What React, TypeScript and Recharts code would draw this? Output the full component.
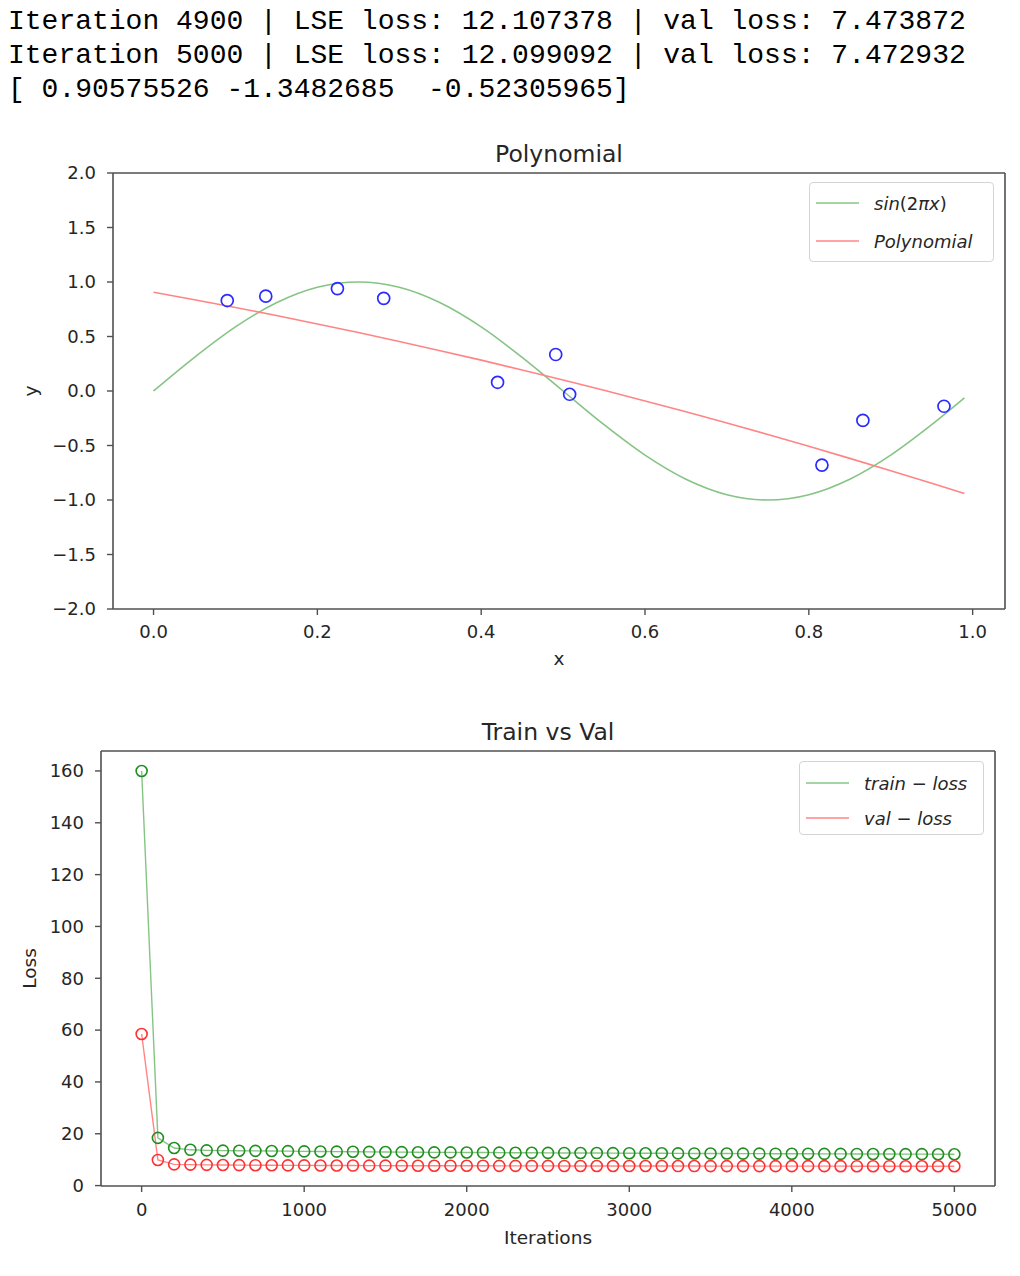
import React from 'react';
import { ComposedChart, Line, Scatter, XAxis, YAxis, Legend, ReferenceLine } from 'recharts';

// ---------- Console text ----------
const consoleLines = [
  'Iteration 4900 | LSE loss: 12.107378 | val loss: 7.473872',
  'Iteration 5000 | LSE loss: 12.099092 | val loss: 7.472932',
  '[ 0.90575526 -1.3482685  -0.52305965]',
];

// ---------- Polynomial chart data ----------
const curveX = [0, 0.05, 0.1, 0.15, 0.2, 0.25, 0.3, 0.35, 0.4, 0.45, 0.5, 0.55, 0.6, 0.65, 0.7, 0.75, 0.8, 0.85, 0.9, 0.95, 0.99];
const sinY = [0, 0.309, 0.588, 0.809, 0.951, 1.0, 0.951, 0.809, 0.588, 0.309, 0, -0.309, -0.588, -0.809, -0.951, -1.0, -0.951, -0.809, -0.588, -0.309, -0.063];
const polyY = [0.906, 0.837, 0.766, 0.692, 0.615, 0.536, 0.454, 0.37, 0.283, 0.193, 0.101, 0.006, -0.091, -0.191, -0.294, -0.399, -0.507, -0.618, -0.731, -0.847, -0.941];
const sampleX = [0.09, 0.137, 0.2245, 0.281, 0.42, 0.491, 0.508, 0.816, 0.866, 0.965];
const sampleY = [0.83, 0.87, 0.94, 0.85, 0.08, 0.335, -0.03, -0.68, -0.27, -0.14];
const polyXDomain = [-0.0495, 1.0395];
const polyYDomain = [-2, 2];
const polyXTicks = [0, 0.2, 0.4, 0.6, 0.8, 1.0];
const polyYTicks = [-2, -1.5, -1, -0.5, 0, 0.5, 1, 1.5, 2];

// ---------- Loss chart data ----------
const iterations = [0, 100, 200, 300, 400, 500, 600, 700, 800, 900, 1000, 1100, 1200, 1300, 1400, 1500, 1600, 1700, 1800, 1900, 2000, 2100, 2200, 2300, 2400, 2500, 2600, 2700, 2800, 2900, 3000, 3100, 3200, 3300, 3400, 3500, 3600, 3700, 3800, 3900, 4000, 4100, 4200, 4300, 4400, 4500, 4600, 4700, 4800, 4900, 5000];
const trainLoss = [160, 18.4, 14.5, 13.8, 13.6, 13.5, 13.45, 13.4, 13.35, 13.3, 13.2, 13.15, 13.1, 13.05, 13.0, 12.95, 12.9, 12.87, 12.83, 12.8, 12.77, 12.74, 12.71, 12.68, 12.65, 12.62, 12.6, 12.57, 12.55, 12.52, 12.5, 12.47, 12.45, 12.43, 12.41, 12.39, 12.37, 12.35, 12.33, 12.31, 12.29, 12.27, 12.25, 12.23, 12.21, 12.19, 12.17, 12.15, 12.13, 12.107, 12.099];
const valLoss = [58.5, 9.9, 8.2, 8.1, 8.0, 7.95, 7.9, 7.87, 7.84, 7.81, 7.79, 7.77, 7.75, 7.73, 7.71, 7.7, 7.68, 7.67, 7.66, 7.65, 7.64, 7.63, 7.62, 7.61, 7.6, 7.59, 7.58, 7.57, 7.565, 7.56, 7.55, 7.545, 7.54, 7.535, 7.53, 7.525, 7.52, 7.515, 7.51, 7.505, 7.5, 7.497, 7.494, 7.491, 7.488, 7.485, 7.482, 7.479, 7.476, 7.474, 7.473];
const lossXDomain = [-250, 5250];
const lossYDomain = [-0.16, 167.7];
const lossXTicks = [0, 1000, 2000, 3000, 4000, 5000];
const lossYTicks = [0, 20, 40, 60, 80, 100, 120, 140, 160];

const sinData = curveX.map((x, i) => ({ x, y: sinY[i] }));
const polyData = curveX.map((x, i) => ({ x, y: polyY[i] }));
const sampleData = sampleX.map((x, i) => ({ x, y: sampleY[i] }));
const lossData = iterations.map((it, i) => ({ it, train: trainLoss[i], val: valLoss[i] }));

const FONT = 'DejaVu Sans';
const TEXT = '#262626';
const FRAME = '#505050';
const tickStyle = { fontSize: 18, fill: TEXT, fontFamily: FONT };
const labelStyle = { fontSize: 18.5, fill: TEXT, fontFamily: FONT };
const titleStyle = { fontSize: 23.5, fill: TEXT, fontFamily: FONT };

const fmt1 = (v: number) => (v < 0 ? '\u2212' + Math.abs(v).toFixed(1) : v.toFixed(1));

const HollowCircle = (props: any) => {
  const { cx, cy } = props;
  if (cx == null || cy == null) return null;
  return <circle cx={cx} cy={cy} r={6} fill="none" stroke="#2b2bff" strokeWidth={1.7} />;
};

type Item = { color: string; label: React.ReactNode };
const LegendBox = ({ items, height, firstRow, gap }: { items: Item[]; height: number; firstRow: number; gap: number }) => (
  <div
    style={{
      width: 185,
      height,
      boxSizing: 'border-box',
      border: '1px solid #d4d4d4',
      borderRadius: 4,
      background: 'rgba(255,255,255,0.85)',
      position: 'relative',
      fontFamily: FONT,
      fontSize: 18,
      color: TEXT,
    }}
  >
    {items.map((it, i) => (
      <div
        key={i}
        style={{
          position: 'absolute',
          left: 6,
          top: firstRow + i * gap - 13,
          height: 26,
          display: 'flex',
          alignItems: 'center',
          whiteSpace: 'nowrap',
        }}
      >
        <svg width={43} height={4}>
          <line x1={0} x2={43} y1={2} y2={2} stroke={it.color} strokeWidth={1.7} />
        </svg>
        <span style={{ marginLeft: 15 }}>{it.label}</span>
      </div>
    ))}
  </div>
);

const polyLegendItems: Item[] = [
  { color: '#86c486', label: <span><i>sin</i>(2<i>πx</i>)</span> },
  { color: '#ff8585', label: <i>Polynomial</i> },
];
const lossLegendItems: Item[] = [
  { color: '#86c486', label: <span><i>train</i> − <i>loss</i></span> },
  { color: '#ff8585', label: <span><i>val</i> − <i>loss</i></span> },
];

const axisLineStyle = { stroke: FRAME, strokeWidth: 1.6 };
const tickLineStyle = { stroke: FRAME, strokeWidth: 1.4 };

export default function App() {
  return (
    <div style={{ position: 'absolute', left: 0, top: 0, width: 1020, height: 1276, background: '#fff' }}>
      <pre
        style={{
          position: 'absolute',
          left: 8,
          top: 5,
          margin: 0,
          fontFamily: '"Liberation Mono", monospace',
          fontSize: 28,
          lineHeight: '34px',
          color: '#000',
        }}
      >
        {consoleLines.join('\n')}
      </pre>

      <div style={{ position: 'absolute', left: 0, top: 130 }}>
        <ComposedChart width={1020} height={560} margin={{ top: 43, right: 15, bottom: 51, left: 0 }}>
          <XAxis
            dataKey="x"
            type="number"
            domain={polyXDomain}
            allowDataOverflow
            ticks={polyXTicks}
            tickFormatter={fmt1}
            tick={tickStyle}
            tickSize={6}
            tickMargin={10}
            axisLine={axisLineStyle}
            tickLine={tickLineStyle}
            label={{ value: 'x', position: 'bottom', offset: 13, style: labelStyle }}
          />
          <YAxis
            type="number"
            width={113}
            domain={polyYDomain}
            allowDataOverflow
            ticks={polyYTicks}
            tickFormatter={fmt1}
            tick={tickStyle}
            tickSize={6}
            tickMargin={11}
            axisLine={axisLineStyle}
            tickLine={tickLineStyle}
            label={{ value: 'y', angle: -90, position: 'insideLeft', offset: 30, style: { ...labelStyle, textAnchor: 'middle' } }}
          />
          <ReferenceLine
            y={polyYDomain[1]}
            stroke={FRAME}
            strokeWidth={1.6}
            ifOverflow="visible"
            label={{ value: 'Polynomial', position: 'top', offset: 11, style: titleStyle }}
          />
          <ReferenceLine x={polyXDomain[1]} stroke={FRAME} strokeWidth={1.6} ifOverflow="visible" />
          <Scatter data={sampleData} dataKey="y" shape={HollowCircle} isAnimationActive={false} />
          <Line
            data={sinData}
            dataKey="y"
            type="monotone"
            stroke="#86c486"
            strokeWidth={1.6}
            dot={false}
            isAnimationActive={false}
          />
          <Line
            data={polyData}
            dataKey="y"
            type="monotone"
            stroke="#ff8585"
            strokeWidth={1.6}
            dot={false}
            isAnimationActive={false}
          />
          <Legend
            layout="vertical"
            align="center"
            verticalAlign="middle"
            wrapperStyle={{ left: 809, top: 52, width: 185 }}
            content={() => <LegendBox items={polyLegendItems} height={80} firstRow={20} gap={38} />}
          />
        </ComposedChart>
      </div>

      <div style={{ position: 'absolute', left: 0, top: 700 }}>
        <ComposedChart width={1020} height={576} data={lossData} margin={{ top: 51, right: 25, bottom: 60, left: 0 }}>
          <XAxis
            dataKey="it"
            type="number"
            domain={lossXDomain}
            allowDataOverflow
            ticks={lossXTicks}
            tick={tickStyle}
            tickSize={6}
            tickMargin={11}
            axisLine={axisLineStyle}
            tickLine={tickLineStyle}
            label={{ value: 'Iterations', position: 'bottom', offset: 15, style: labelStyle }}
          />
          <YAxis
            type="number"
            width={101}
            domain={lossYDomain}
            allowDataOverflow
            ticks={lossYTicks}
            tick={tickStyle}
            tickSize={6}
            tickMargin={11}
            axisLine={axisLineStyle}
            tickLine={tickLineStyle}
            label={{ value: 'Loss', angle: -90, position: 'insideLeft', offset: 29, style: { ...labelStyle, textAnchor: 'middle' } }}
          />
          <ReferenceLine
            y={lossYDomain[1]}
            stroke={FRAME}
            strokeWidth={1.6}
            ifOverflow="visible"
            label={{ value: 'Train vs Val', position: 'top', offset: 11.5, style: titleStyle }}
          />
          <ReferenceLine x={lossXDomain[1]} stroke={FRAME} strokeWidth={1.6} ifOverflow="visible" />
          <Line
            dataKey="train"
            type="linear"
            stroke="#86c486"
            strokeWidth={1.4}
            dot={{ r: 5.5, stroke: '#1f8f1f', strokeWidth: 1.6, fill: 'none' }}
            isAnimationActive={false}
          />
          <Line
            dataKey="val"
            type="linear"
            stroke="#ff8585"
            strokeWidth={1.4}
            dot={{ r: 5.5, stroke: '#ff3030', strokeWidth: 1.6, fill: 'none' }}
            isAnimationActive={false}
          />
          <Legend
            layout="vertical"
            align="center"
            verticalAlign="middle"
            wrapperStyle={{ left: 799, top: 61, width: 185 }}
            content={() => <LegendBox items={lossLegendItems} height={74} firstRow={21} gap={35} />}
          />
        </ComposedChart>
      </div>
    </div>
  );
}
